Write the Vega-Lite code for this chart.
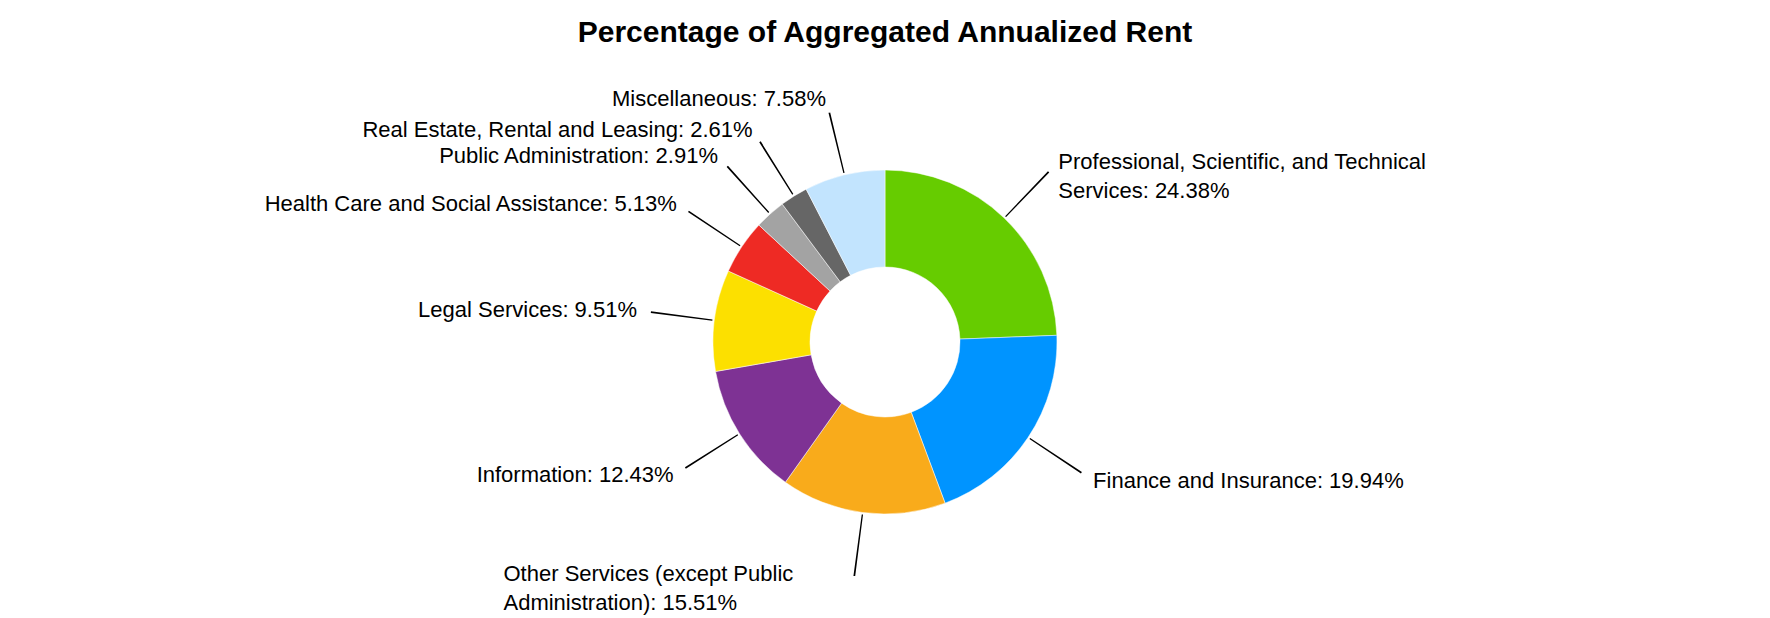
{
  "$schema": "https://vega.github.io/schema/vega-lite/v6.json",
  "width": 1770,
  "height": 552,
  "autosize": {"type": "none"},
  "padding": {"top": 66, "left": 0, "right": 0, "bottom": 0},
  "background": "white",
  "title": {
    "text": "Percentage of Aggregated Annualized Rent",
    "fontSize": 30,
    "font": "Liberation Sans",
    "fontWeight": "bold",
    "color": "black",
    "anchor": "middle",
    "offset": 18
  },
  "config": {"view": {"stroke": null}},
  "data": {
    "values": [
      {"name": "Professional, Scientific, and Technical\nServices", "pct": 24.38},
      {"name": "Finance and Insurance", "pct": 19.94},
      {"name": "Other Services (except Public\nAdministration)", "pct": 15.51},
      {"name": "Information", "pct": 12.43},
      {"name": "Legal Services", "pct": 9.51},
      {"name": "Health Care and Social Assistance", "pct": 5.13},
      {"name": "Public Administration", "pct": 2.91},
      {"name": "Real Estate, Rental and Leasing", "pct": 2.61},
      {"name": "Miscellaneous", "pct": 7.58}
    ]
  },
  "transform": [
    {"window": [{"op": "row_number", "as": "i"}]},
    {"stack": "pct", "groupby": [], "sort": [{"field": "i", "order": "ascending"}], "as": ["a0", "a1"]},
    {"calculate": "(datum.a0 + datum.a1) / 2", "as": "mid"},
    {"calculate": "datum.mid - 0.06", "as": "l0"},
    {"calculate": "datum.mid + 0.06", "as": "l1"},
    {"calculate": "datum.name + ': ' + format(datum.pct, '.2f') + '%'", "as": "label"}
  ],
  "layer": [
    {
      "mark": {"type": "arc", "innerRadius": 75, "outerRadius": 172, "stroke": "white", "strokeWidth": 0.5},
      "encoding": {
        "theta": {"field": "a0", "type": "quantitative", "stack": null, "scale": {"domain": [0, 100], "range": [0, 6.283185307179586]}},
        "theta2": {"field": "a1"},
        "color": {
          "field": "name",
          "type": "nominal",
          "legend": null,
          "scale": {
            "domain": [
              "Professional, Scientific, and Technical\nServices",
              "Finance and Insurance",
              "Other Services (except Public\nAdministration)",
              "Information",
              "Legal Services",
              "Health Care and Social Assistance",
              "Public Administration",
              "Real Estate, Rental and Leasing",
              "Miscellaneous"
            ],
            "range": ["#66CC00", "#0094FF", "#F9AB1B", "#7E3294", "#FCE000", "#EE2A24", "#A3A3A3", "#666666", "#C2E4FE"]
          }
        }
      }
    },
    {
      "mark": {"type": "arc", "innerRadius": 174, "outerRadius": 236, "color": "black"},
      "encoding": {
        "theta": {"field": "l0", "type": "quantitative", "stack": null, "scale": {"domain": [0, 100], "range": [0, 6.283185307179586]}},
        "theta2": {"field": "l1"}
      }
    },
    {
      "transform": [{"filter": "datum.mid < 45"}],
      "mark": {"type": "text", "radius": 250, "align": "left", "baseline": "middle", "fontSize": 22, "font": "Liberation Sans", "lineBreak": "\n", "lineHeight": 29, "color": "black"},
      "encoding": {
        "theta": {"field": "mid", "type": "quantitative", "stack": null, "scale": {"domain": [0, 100], "range": [0, 6.283185307179586]}},
        "text": {"field": "label", "type": "nominal"}
      }
    },
    {
      "transform": [{"filter": "datum.mid >= 45 && datum.mid < 60"}],
      "mark": {"type": "text", "radius": 250, "align": "left", "baseline": "middle", "dx": -349, "dy": -16, "fontSize": 22, "font": "Liberation Sans", "lineBreak": "\n", "lineHeight": 29, "color": "black"},
      "encoding": {
        "theta": {"field": "mid", "type": "quantitative", "stack": null, "scale": {"domain": [0, 100], "range": [0, 6.283185307179586]}},
        "text": {"field": "label", "type": "nominal"}
      }
    },
    {
      "transform": [{"filter": "datum.mid >= 60"}],
      "mark": {"type": "text", "radius": 250, "align": "right", "baseline": "middle", "fontSize": 22, "font": "Liberation Sans", "lineBreak": "\n", "lineHeight": 29, "color": "black"},
      "encoding": {
        "theta": {"field": "mid", "type": "quantitative", "stack": null, "scale": {"domain": [0, 100], "range": [0, 6.283185307179586]}},
        "text": {"field": "label", "type": "nominal"}
      }
    }
  ]
}
